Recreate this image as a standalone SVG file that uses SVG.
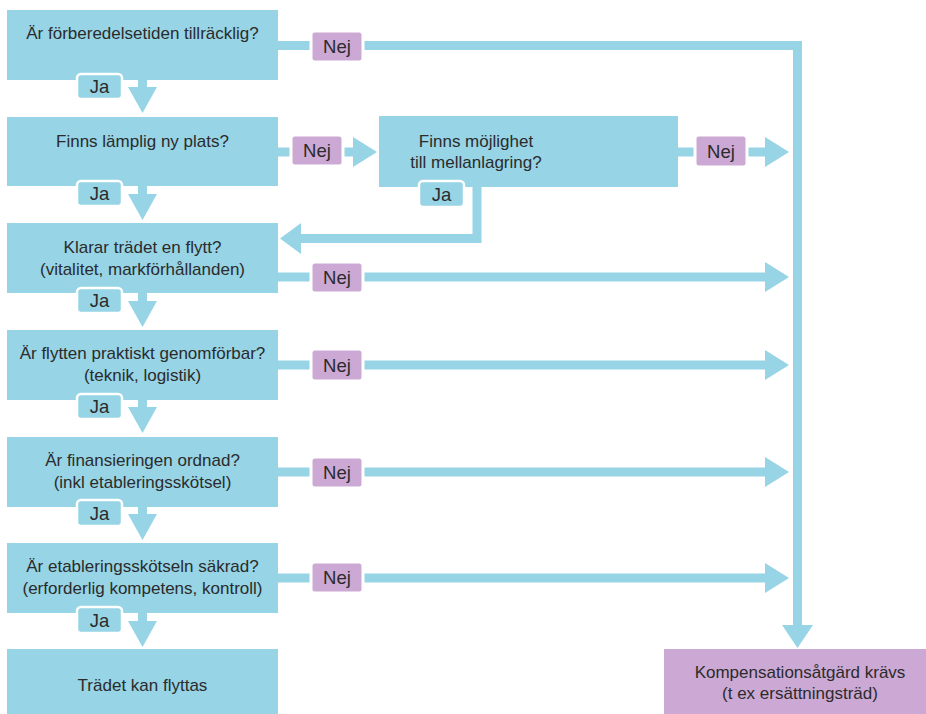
<svg xmlns="http://www.w3.org/2000/svg" width="926" height="714" viewBox="0 0 926 714">
<style>
.box{fill:#96D4E6}
.pbox{fill:#CCA8D4}
.ja{fill:#96D4E6;stroke:#fff;stroke-width:2.5}
.nej{fill:#CCA8D4;stroke:#fff;stroke-width:3}
.ln{stroke:#96D4E6;stroke-width:9;fill:none}
.hd{fill:#96D4E6}
text{font-family:"Liberation Sans",Arial,sans-serif;fill:#2b2b2b;text-anchor:middle}
.t{font-size:17px}
.l{font-size:18.5px}
</style>
<rect width="926" height="714" fill="#fff"/>
<g id="connectors">
  <path class="ln" d="M142.5 80V88M142.5 186V195M142.5 293V302M142.5 400V408M142.5 507V515M142.5 613V622"/>
  <polygon class="hd" points="128,87 157,87 142.5,113"/>
  <polygon class="hd" points="128,194 157,194 142.5,220"/>
  <polygon class="hd" points="128,301 157,301 142.5,327"/>
  <polygon class="hd" points="128,407 157,407 142.5,433"/>
  <polygon class="hd" points="128,514 157,514 142.5,540"/>
  <polygon class="hd" points="128,621 157,621 142.5,647"/>
  <path class="ln" d="M278 45.5H797.5V626"/>
  <polygon class="hd" points="782,625 813,625 797.5,648"/>
  <path class="ln" d="M278 152H356"/>
  <polygon class="hd" points="353,137 377,152 353,167"/>
  <path class="ln" d="M678 152H766"/>
  <polygon class="hd" points="765,137 789,152 765,167"/>
  <path class="ln" d="M477 187V238.5H299"/>
  <polygon class="hd" points="301,223 280,238.5 301,254"/>
  <path class="ln" d="M278 277H766M278 365H766M278 472H766M278 578H766"/>
  <polygon class="hd" points="765,262 789,277 765,292"/>
  <polygon class="hd" points="765,350 789,365 765,380"/>
  <polygon class="hd" points="765,457 789,472 765,487"/>
  <polygon class="hd" points="765,563 789,578 765,593"/>
</g>
<g id="n1">
  <rect class="box" x="7" y="10" width="271" height="70"/>
  <text class="t" x="142.5" y="39">Är förberedelsetiden tillräcklig?</text>
</g>
<g id="n2">
  <rect class="box" x="7" y="117" width="271" height="69"/>
  <text class="t" x="142.5" y="147">Finns lämplig ny plats?</text>
</g>
<g id="n3">
  <rect class="box" x="379" y="116" width="299" height="71"/>
  <text class="t" x="476" y="147">Finns möjlighet</text>
  <text class="t" x="476" y="168">till mellanlagring?</text>
</g>
<g id="n4">
  <rect class="box" x="7" y="223" width="271" height="70"/>
  <text class="t" x="142.5" y="253">Klarar trädet en flytt?</text>
  <text class="t" x="142.5" y="275">(vitalitet, markförhållanden)</text>
</g>
<g id="n5">
  <rect class="box" x="7" y="330" width="271" height="70"/>
  <text class="t" x="142.5" y="359">Är flytten praktiskt genomförbar?</text>
  <text class="t" x="142.5" y="381">(teknik, logistik)</text>
</g>
<g id="n6">
  <rect class="box" x="7" y="437" width="271" height="70"/>
  <text class="t" x="142.5" y="466">Är finansieringen ordnad?</text>
  <text class="t" x="142.5" y="488">(inkl etableringsskötsel)</text>
</g>
<g id="n7">
  <rect class="box" x="7" y="543" width="271" height="70"/>
  <text class="t" x="142.5" y="572">Är etableringsskötseln säkrad?</text>
  <text class="t" x="142.5" y="594">(erforderlig kompetens, kontroll)</text>
</g>
<g id="n8">
  <rect class="box" x="7" y="649" width="271" height="66"/>
  <text class="t" x="142.5" y="691">Trädet kan flyttas</text>
</g>
<g id="n9">
  <rect class="pbox" x="664" y="649" width="262" height="66"/>
  <text class="t" x="800" y="678">Kompensationsåtgärd krävs</text>
  <text class="t" x="800" y="699">(t ex ersättningsträd)</text>
</g>
<g id="ja-labels">
  <rect class="ja" x="77" y="74" width="45" height="25" rx="4"/><text class="l" x="99.5" y="93">Ja</text>
  <rect class="ja" x="77" y="181" width="45" height="25" rx="4"/><text class="l" x="99.5" y="200">Ja</text>
  <rect class="ja" x="419" y="181" width="45" height="26" rx="4"/><text class="l" x="441.5" y="201">Ja</text>
  <rect class="ja" x="77" y="288" width="45" height="25" rx="4"/><text class="l" x="99.5" y="307">Ja</text>
  <rect class="ja" x="77" y="394" width="45" height="25" rx="4"/><text class="l" x="99.5" y="413">Ja</text>
  <rect class="ja" x="77" y="500" width="45" height="26" rx="4"/><text class="l" x="99.5" y="520">Ja</text>
  <rect class="ja" x="77" y="607" width="45" height="26" rx="4"/><text class="l" x="99.5" y="627">Ja</text>
</g>
<g id="nej-labels">
  <rect class="nej" x="311" y="31" width="52" height="31" rx="4"/><text class="l" x="337" y="53">Nej</text>
  <rect class="nej" x="291" y="135" width="52" height="31" rx="4"/><text class="l" x="317" y="157">Nej</text>
  <rect class="nej" x="695" y="135" width="52" height="32" rx="4"/><text class="l" x="721" y="158">Nej</text>
  <rect class="nej" x="311" y="262" width="52" height="31" rx="4"/><text class="l" x="337" y="284">Nej</text>
  <rect class="nej" x="311" y="349" width="52" height="32" rx="4"/><text class="l" x="337" y="372">Nej</text>
  <rect class="nej" x="311" y="457" width="52" height="31" rx="4"/><text class="l" x="337" y="479">Nej</text>
  <rect class="nej" x="311" y="562" width="52" height="31" rx="4"/><text class="l" x="337" y="584">Nej</text>
</g>
</svg>
